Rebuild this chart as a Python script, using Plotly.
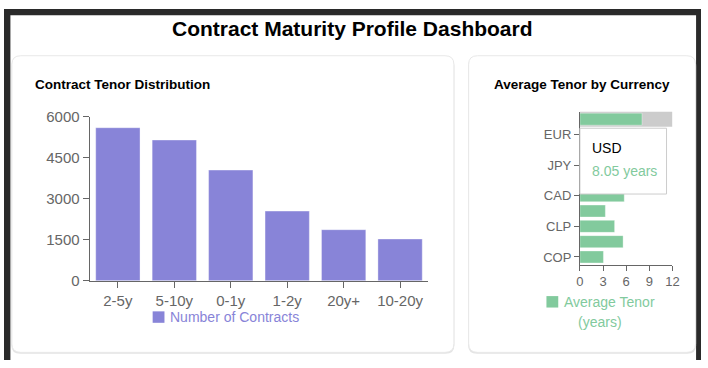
import plotly.graph_objects as go

W, H = 708, 368

# ---- data ----
tenor_buckets = ["2-5y", "5-10y", "0-1y", "1-2y", "20y+", "10-20y"]
contract_counts = [5600, 5150, 4050, 2550, 1870, 1530]
tenor_ticks = [0, 1500, 3000, 4500, 6000]

currencies = ["USD", "EUR", "GBP", "JPY", "CHF", "CAD", "BRL", "CLP", "MXN", "COP"]
avg_tenor = [8.05, 7.3, 6.9, 6.4, 6.1, 5.75, 3.3, 4.5, 5.6, 3.05]
currency_ticks = ["EUR", "JPY", "CAD", "CLP", "COP"]
avg_ticks = [0, 3, 6, 9, 12]

PURPLE = "#8884d8"
GREEN = "#82ca9d"
AXIS = "#666666"
FONT = "Liberation Sans, Arial, sans-serif"


def px(x):
    return x / W


def py(y):
    return 1 - y / H


def rounded_rect(x0, y0, x1, y1, r):
    X = lambda v: f"{px(v):.5f}"
    Y = lambda v: f"{py(v):.5f}"
    return (f"M {X(x0 + r)},{Y(y0)} L {X(x1 - r)},{Y(y0)} Q {X(x1)},{Y(y0)} {X(x1)},{Y(y0 + r)} "
            f"L {X(x1)},{Y(y1 - r)} Q {X(x1)},{Y(y1)} {X(x1 - r)},{Y(y1)} "
            f"L {X(x0 + r)},{Y(y1)} Q {X(x0)},{Y(y1)} {X(x0)},{Y(y1 - r)} "
            f"L {X(x0)},{Y(y0 + r)} Q {X(x0)},{Y(y0)} {X(x0 + r)},{Y(y0)} Z")


fig = go.Figure()

fig.add_trace(go.Bar(
    x=tenor_buckets, y=contract_counts, marker=dict(color=PURPLE, line=dict(color="rgba(255,255,255,0.35)", width=1)),
    xaxis="x", yaxis="y", showlegend=False, name="Number of Contracts",
))
fig.add_trace(go.Bar(
    y=currencies, x=avg_tenor, orientation="h",
    marker=dict(color=GREEN, line=dict(color="rgba(255,255,255,0.35)", width=1)),
    xaxis="x2", yaxis="y2", showlegend=False, name="Average Tenor (years)",
))

axis_common = dict(showline=True, linecolor=AXIS, linewidth=1, ticks="outside",
                   tickcolor=AXIS, showgrid=False, zeroline=False, fixedrange=True)

shapes = [
    # dark frame
    dict(type="rect", xref="paper", yref="paper", x0=0, x1=1, y0=0, y1=1,
         fillcolor="#2a2a2a", line=dict(width=0), layer="below"),
    dict(type="rect", xref="paper", yref="paper", x0=px(6.5), x1=px(703), y0=0, y1=py(6.5),
         fillcolor="#ffffff", line=dict(width=0), layer="below"),
    # card shadows
    dict(type="path", xref="paper", yref="paper", path=rounded_rect(7.5, 50.5, 457.5, 361.5, 9),
         fillcolor="#e4e4e4", line=dict(width=0), layer="below"),
    dict(type="path", xref="paper", yref="paper", path=rounded_rect(471.5, 50.5, 703, 361.5, 9),
         fillcolor="#e4e4e4", line=dict(width=0), layer="below"),
    # cards
    dict(type="path", xref="paper", yref="paper", path=rounded_rect(8, 49, 457, 360, 9),
         fillcolor="#ffffff", line=dict(color="#e8e8e8", width=1), layer="below"),
    dict(type="path", xref="paper", yref="paper", path=rounded_rect(472, 49, 702.5, 360, 9),
         fillcolor="#ffffff", line=dict(color="#e8e8e8", width=1), layer="below"),
    # hover cursor band on first currency
    dict(type="rect", xref="x2", yref="y2", x0=avg_ticks[0], x1=avg_ticks[-1], y0=-0.5, y1=0.5,
         fillcolor="#cccccc", line=dict(width=0), layer="below"),
    # legends
    dict(type="rect", xref="paper", yref="paper", x0=px(151), x1=px(163), y0=py(329), y1=py(317),
         fillcolor=PURPLE, line=dict(width=0)),
    dict(type="rect", xref="paper", yref="paper", x0=px(551), x1=px(563), y0=py(313), y1=py(301),
         fillcolor=GREEN, line=dict(width=0)),
    # tooltip box
    dict(type="rect", xref="paper", yref="paper", x0=px(585), x1=px(673), y0=py(194), y1=py(125),
         fillcolor="#ffffff", line=dict(color="#cccccc", width=1), layer="above"),
]

annotations = [
    dict(text="<b>Contract Maturity Profile Dashboard</b>", x=px(354), y=py(20), xref="paper", yref="paper",
         showarrow=False, xanchor="center", yanchor="middle", font=dict(size=21, color="#000", family=FONT)),
    dict(text="<b>Contract Tenor Distribution</b>", x=px(29), y=py(79), xref="paper", yref="paper",
         showarrow=False, xanchor="left", yanchor="middle", font=dict(size=13.5, color="#000", family=FONT)),
    dict(text="<b>Average Tenor by Currency</b>", x=px(496), y=py(79), xref="paper", yref="paper",
         showarrow=False, xanchor="left", yanchor="middle", font=dict(size=13.5, color="#000", family=FONT)),
    dict(text="Number of Contracts", x=px(167), y=py(323), xref="paper", yref="paper",
         showarrow=False, xanchor="left", yanchor="middle", font=dict(size=14, color=PURPLE, family=FONT)),
    dict(text="Average Tenor", x=px(567), y=py(307), xref="paper", yref="paper",
         showarrow=False, xanchor="left", yanchor="middle", font=dict(size=14, color=GREEN, family=FONT)),
    dict(text="(years)", x=px(605.5), y=py(328), xref="paper", yref="paper",
         showarrow=False, xanchor="center", yanchor="middle", font=dict(size=14, color=GREEN, family=FONT)),
    dict(text=currencies[0], x=px(595), y=py(146), xref="paper", yref="paper",
         showarrow=False, xanchor="left", yanchor="middle", font=dict(size=14, color="#000", family=FONT)),
    dict(text=f"{avg_tenor[0]:.2f} years", x=px(595), y=py(170), xref="paper", yref="paper",
         showarrow=False, xanchor="left", yanchor="middle", font=dict(size=14, color=GREEN, family=FONT)),
]

fig.update_layout(
    width=W, height=H, margin=dict(l=0, r=0, t=0, b=0),
    paper_bgcolor="#ffffff", plot_bgcolor="rgba(0,0,0,0)",
    font=dict(family=FONT, color=AXIS),
    bargap=0.215,
    xaxis=dict(domain=[px(87), px(431)], type="category", tickfont=dict(size=15, color=AXIS),
               anchor="y", ticklen=6, **axis_common),
    yaxis=dict(domain=[py(285), py(113)], range=[0, tenor_ticks[-1]], tickvals=tenor_ticks,
               tickfont=dict(size=15, color=AXIS), anchor="x", ticklen=6, **axis_common),
    xaxis2=dict(domain=[px(585), px(679)], range=[avg_ticks[0], avg_ticks[-1]], tickvals=avg_ticks,
                tickfont=dict(size=13, color=AXIS), anchor="y2", ticklen=5, **axis_common),
    yaxis2=dict(domain=[py(268), py(107.5)], type="category", categoryorder="array", categoryarray=currencies,
                range=[len(currencies) - 0.5, -0.5], tickvals=currency_ticks,
                tickfont=dict(size=13, color=AXIS), anchor="x2", ticklen=5, **axis_common),
    shapes=shapes,
    annotations=annotations,
    hovermode=False,
)

fig.write_html(
    "out.html",
    config={"displayModeBar": False},
    post_script="document.documentElement.style.margin='0';document.body.style.margin='0';"
                "document.body.style.overflow='hidden';",
)
